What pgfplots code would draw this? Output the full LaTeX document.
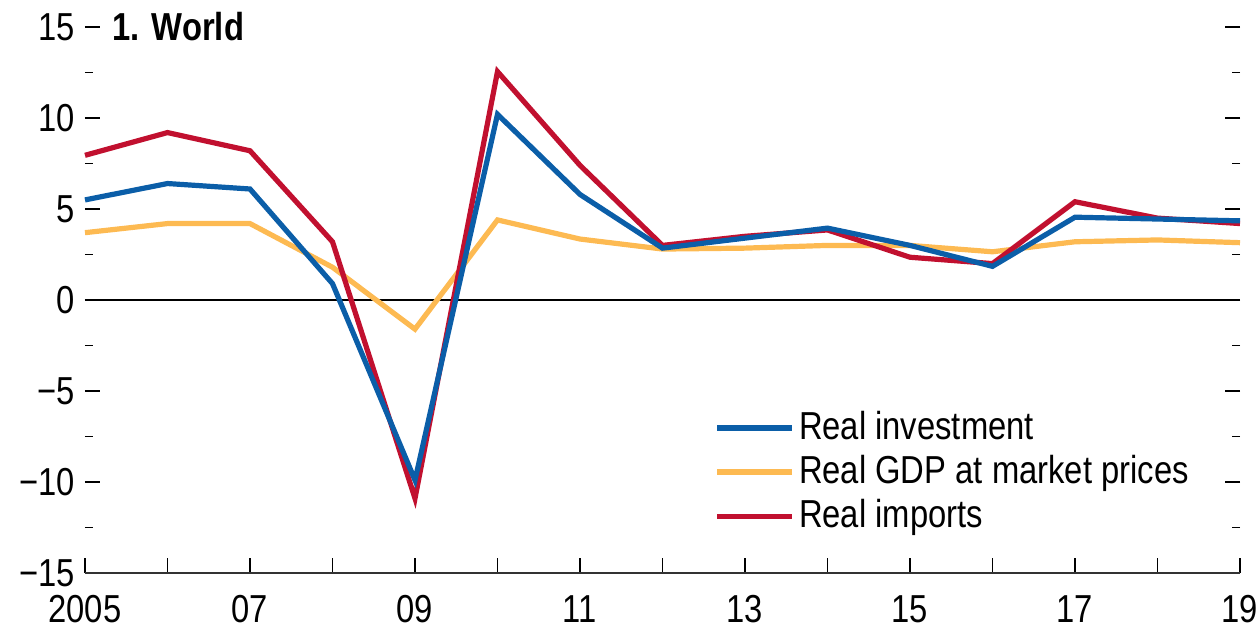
\documentclass[border=0pt]{standalone}
\usepackage{fontspec}
\setmainfont[FakeStretch=0.84]{Liberation Sans}
\usepackage{pgfplots}
\pgfplotsset{compat=1.18}
\definecolor{cblue}{HTML}{0B5EA8}
\definecolor{cyel}{HTML}{FDBA52}
\definecolor{cred}{HTML}{C1102F}
\begin{document}
\fontsize{19.5}{23}\selectfont
\begin{tikzpicture}
\useasboundingbox (-42.5pt,-28pt) rectangle (587pt,286.5pt);
\begin{axis}[
  at={(0pt,0pt)}, anchor=south west,
  scale only axis, width=577.5pt, height=273pt,
  xmin=2005, xmax=2019, ymin=-15, ymax=15,
  axis line style={draw=none},
  tick align=inside,
  xtick={2005,...,2019},
  xticklabels={2005,,07,,09,,11,,13,,15,,17,,19},
  xtick pos=bottom,
  ytick={-15,-10,...,15},
  yticklabels={−15,−10,−5,0,5,10,15},
  minor ytick={-12.5,-7.5,...,12.5},
  ytick pos=both, yticklabel pos=left,
  major tick length=7.5pt, minor tick length=4pt,
  every tick/.style={black, line width=0.9pt},
  tick label style={font=\fontsize{19.5}{23}\selectfont},
  yticklabel style={inner sep=0pt, xshift=-5pt},
  xticklabel style={inner sep=0pt, yshift=-11pt},
  legend style={at={(rel axis cs:0.545,0.305)}, anchor=north west, draw=none, fill=none,
    font=\fontsize{19.5}{23}\selectfont, inner sep=0pt, row sep=1pt},
  legend cell align=left,
  legend image code/.code={\draw[#1, line width=2.6pt] (0pt,0pt) -- (37.5pt,0pt);},
  clip=false,
]
\addlegendimage{cblue}
\addlegendentry{Real investment}
\addlegendimage{cyel}
\addlegendentry{Real GDP at market prices}
\addlegendimage{cred}
\addlegendentry{Real imports}
\draw[black, line width=0.9pt] (axis cs:2005,0) -- (axis cs:2019,0);
\draw[black!80, line width=1pt] (rel axis cs:0,0) -- (rel axis cs:1,0);
\addplot[cyel, line width=2.6pt, forget plot] coordinates {
(2005,3.7) (2006,4.2) (2007,4.2) (2008,1.8) (2009,-1.6) (2010,4.4) (2011,3.35)
(2012,2.8) (2013,2.85) (2014,3.0) (2015,3.0) (2016,2.65) (2017,3.2) (2018,3.3) (2019,3.15)};
\addplot[cred, line width=2.6pt, forget plot] coordinates {
(2005,7.95) (2006,9.2) (2007,8.2) (2008,3.2) (2009,-10.9) (2010,12.55) (2011,7.4)
(2012,3.0) (2013,3.5) (2014,3.85) (2015,2.35) (2016,2.0) (2017,5.4) (2018,4.5) (2019,4.2)};
\addplot[cblue, line width=2.6pt, forget plot] coordinates {
(2005,5.5) (2006,6.4) (2007,6.1) (2008,0.9) (2009,-9.9) (2010,10.2) (2011,5.8)
(2012,2.85) (2013,3.4) (2014,3.95) (2015,3.0) (2016,1.85) (2017,4.55) (2018,4.45) (2019,4.35)};
\node[anchor=west, inner sep=0pt, font=\fontsize{19.5}{23}\selectfont\bfseries] at ([xshift=13.5pt]rel axis cs:0,1) {1. World};
\end{axis}
\end{tikzpicture}
\end{document}
